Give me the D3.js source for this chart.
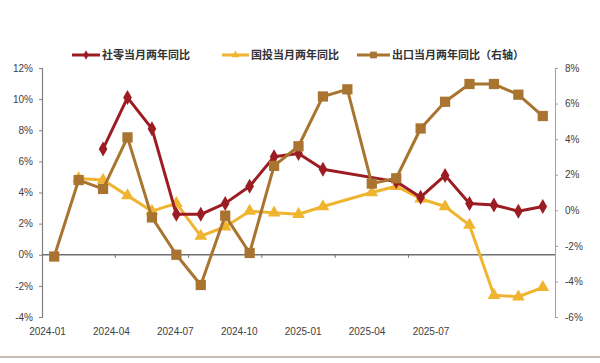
<!DOCTYPE html>
<html>
<head>
<meta charset="utf-8">
<script src="https://cdn.jsdelivr.net/npm/d3@7"></script>
<style>
  body { margin: 0; background: #fff; }
  svg { display: block; }
</style>
</head>
<body>
<div id="chart"></div>
<script>
// --- Data ---
const months = ["2024-01","2024-02","2024-03","2024-04","2024-05","2024-06","2024-07","2024-08","2024-09",
  "2024-10","2024-11","2024-12","2025-01","2025-02","2025-03","2025-04","2025-05","2025-06","2025-07",
  "2025-08","2025-09"];
const retail = [null, null, 6.8, 10.1, 8.1, 2.6, 2.6, 3.3, 4.4, 6.3, 6.5, 5.5, null, null, 4.7, 3.7, 5.1, 3.3, 3.2, 2.8, 3.1];
const invest = [null, 4.9, 4.8, 3.8, 2.8, 3.3, 1.2, 1.8, 2.8, 2.7, 2.6, 3.1, null, 4.0, 4.4, 3.6, 3.1, 1.9, -2.6, -2.7, -2.1];
const exportY = [-2.6, 1.7, 1.2, 4.1, -0.4, -2.5, -4.2, -0.3, -2.4, 2.5, 3.6, 6.4, 6.8, 1.5, 1.8, 4.6, 6.1, 7.1, 7.1, 6.5, 5.3];
const xLabels = ["2024-01","2024-04","2024-07","2024-10","2025-01","2025-04","2025-07"];
const leftTicks = [-4, -2, 0, 2, 4, 6, 8, 10, 12];
const rightTicks = [-6, -4, -2, 0, 2, 4, 6, 8];
const legendNames = ["社零当月两年同比", "国投当月两年同比", "出口当月两年同比（右轴）"];

const width = 600, height = 363;
const plotLeft = 42, plotRight = 555, plotTop = 68, plotBottom = 317;
const colors = { retail: "#9b1c22", invest: "#f0b530", export: "#a87430" };

const svg = d3.select("#chart").append("svg")
  .attr("width", width).attr("height", height);

const x = d3.scaleBand().domain(months).range([plotLeft, plotRight]);
const xc = m => x(m) + x.bandwidth() / 2;
const xLab = d3.scalePoint().domain(xLabels).range([47.5, 431]);
const yL = d3.scaleLinear().domain([-4, 12]).range([plotBottom, plotTop]);
const yR = d3.scaleLinear().domain([-6, 8]).range([plotBottom, plotTop]);

const font = "'Liberation Sans', Arial, sans-serif";

// --- Axes ---
const gL = svg.append("g").attr("transform", `translate(${plotLeft},0)`)
  .call(d3.axisLeft(yL).tickValues(leftTicks).tickSize(3).tickFormat(d => d + "%"));
gL.select(".domain").attr("stroke", "#808080").attr("stroke-width", 1.2);
gL.selectAll(".tick line").attr("stroke", "#808080");
gL.selectAll("text").attr("font-family", font).attr("font-size", 10).attr("fill", "#404040").attr("x", -9);

const gR = svg.append("g").attr("transform", `translate(${plotRight},0)`)
  .call(d3.axisRight(yR).tickValues(rightTicks).tickSize(3).tickFormat(d => d + "%"));
gR.select(".domain").attr("stroke", "#a0a0a0").attr("stroke-width", 1);
gR.selectAll(".tick line").attr("stroke", "#a0a0a0");
gR.selectAll("text").attr("font-family", font).attr("font-size", 10).attr("fill", "#404040").attr("x", 10);

// zero line of left axis with category ticks every 3 months
svg.append("line")
  .attr("x1", plotLeft).attr("x2", plotRight).attr("y1", yL(0)).attr("y2", yL(0))
  .attr("stroke", "#707070").attr("stroke-width", 1.3);
svg.append("g").selectAll("line")
  .data(months.filter((m, i) => i > 0 && i % 3 === 0))
  .join("line")
  .attr("x1", d => x(d)).attr("x2", d => x(d))
  .attr("y1", yL(0)).attr("y2", yL(0) + 3)
  .attr("stroke", "#707070");

svg.append("g").selectAll("text")
  .data(xLabels)
  .join("text")
  .attr("x", d => xLab(d)).attr("y", 335)
  .attr("text-anchor", "middle")
  .attr("font-family", font).attr("font-size", 10).attr("fill", "#404040")
  .text(d => d);

// --- Series ---
function drawSeries(values, yScale, color, shape, size) {
  const pts = months.map((m, i) => ({ m, v: values[i] })).filter(d => d.v !== null);
  const line = d3.line().x(d => xc(d.m)).y(d => yScale(d.v));
  svg.append("path").datum(pts)
    .attr("d", line).attr("fill", "none")
    .attr("stroke", color).attr("stroke-width", 3).attr("stroke-linejoin", "round");
  svg.append("g").selectAll("path")
    .data(pts).join("path")
    .attr("d", d3.symbol().type(shape).size(size))
    .attr("transform", d => `translate(${xc(d.m)},${yScale(d.v)})`)
    .attr("fill", color);
}

drawSeries(invest, yL, colors.invest, d3.symbolTriangle, 70);
drawSeries(retail, yL, colors.retail, d3.symbolDiamond, 65);
drawSeries(exportY, yR, colors.export, d3.symbolSquare, 105);

// --- Legend ---
const legendItems = [
  { name: legendNames[0], color: colors.retail, shape: d3.symbolDiamond, x1: 72, x2: 100 },
  { name: legendNames[1], color: colors.invest, shape: d3.symbolTriangle, x1: 222, x2: 249 },
  { name: legendNames[2], color: colors.export, shape: d3.symbolSquare, x1: 357, x2: 390 }
];
const lg = svg.append("g").selectAll("g").data(legendItems).join("g");
lg.append("line")
  .attr("x1", d => d.x1).attr("x2", d => d.x2).attr("y1", 55).attr("y2", 55)
  .attr("stroke", d => d.color).attr("stroke-width", 3);
lg.append("path")
  .attr("d", d => d3.symbol().type(d.shape).size(d.shape === d3.symbolSquare ? 45 : 25)())
  .attr("transform", d => `translate(${(d.x1 + d.x2) / 2},55)`)
  .attr("fill", d => d.color);
lg.append("text")
  .attr("x", d => d.x2 + 2).attr("y", 59)
  .attr("font-family", "'Noto Sans CJK SC', sans-serif").attr("font-size", 11)
  .attr("font-weight", 700).attr("fill", "#333")
  .text(d => d.name);

// bottom border line
svg.append("line")
  .attr("x1", 0).attr("x2", width).attr("y1", 357).attr("y2", 357)
  .attr("stroke", "#b0a49c").attr("stroke-width", 1.5);
</script>
</body>
</html>
